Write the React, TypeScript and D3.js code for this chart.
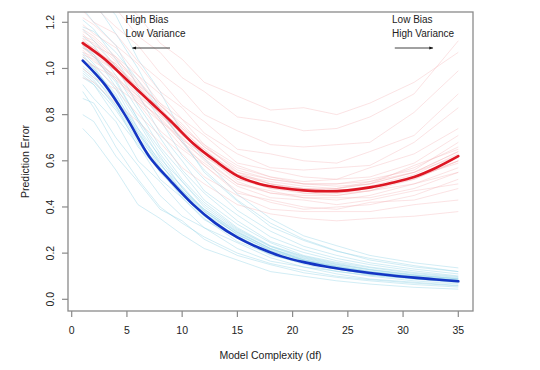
import React from "react";
import * as d3 from "d3";

const curveDf = [1, 2, 4, 6, 8, 10, 12, 15, 18, 21, 24, 27, 31, 35];
// df values for the two average curves
const meanDf = [1, 3, 5, 7, 9, 11, 13, 15, 17, 19, 21, 23, 25, 27, 29, 31, 33, 35];

const trainMean = [1.034, 0.93, 0.785, 0.62, 0.51, 0.41, 0.33, 0.268, 0.222, 0.186, 0.161, 0.142, 0.127, 0.114, 0.103, 0.094, 0.086, 0.078];
const testMean = [1.11, 1.04, 0.95, 0.86, 0.77, 0.675, 0.6, 0.535, 0.5, 0.482, 0.472, 0.468, 0.472, 0.485, 0.505, 0.53, 0.57, 0.62];

// training error, one row per sample
const trainCurves = [
  [0.74, 0.69, 0.56, 0.41, 0.35, 0.28, 0.22, 0.17, 0.12, 0.1, 0.08, 0.066, 0.052, 0.044],
  [0.8, 0.77, 0.62, 0.51, 0.39, 0.34, 0.26, 0.19, 0.15, 0.115, 0.095, 0.08, 0.064, 0.053],
  [0.87, 0.85, 0.7, 0.58, 0.45, 0.36, 0.31, 0.22, 0.165, 0.14, 0.11, 0.088, 0.074, 0.06],
  [0.93, 0.87, 0.77, 0.6, 0.51, 0.4, 0.31, 0.245, 0.18, 0.14, 0.122, 0.1, 0.08, 0.066],
  [0.96, 0.93, 0.79, 0.67, 0.52, 0.44, 0.35, 0.25, 0.195, 0.152, 0.12, 0.104, 0.088, 0.071],
  [0.98, 0.94, 0.84, 0.66, 0.56, 0.44, 0.345, 0.265, 0.19, 0.158, 0.133, 0.106, 0.089, 0.076],
  [1.01, 0.97, 0.84, 0.7, 0.55, 0.47, 0.37, 0.27, 0.205, 0.16, 0.134, 0.114, 0.094, 0.077],
  [1.03, 0.98, 0.87, 0.7, 0.59, 0.46, 0.37, 0.285, 0.21, 0.168, 0.138, 0.113, 0.096, 0.081],
  [1.05, 1.01, 0.87, 0.73, 0.58, 0.49, 0.385, 0.28, 0.215, 0.17, 0.142, 0.12, 0.097, 0.083],
  [1.07, 1.02, 0.91, 0.74, 0.62, 0.48, 0.39, 0.295, 0.22, 0.177, 0.146, 0.121, 0.101, 0.085],
  [1.09, 1.06, 0.92, 0.77, 0.61, 0.51, 0.4, 0.3, 0.228, 0.18, 0.15, 0.127, 0.104, 0.088],
  [1.12, 1.06, 0.95, 0.78, 0.65, 0.52, 0.42, 0.31, 0.232, 0.187, 0.156, 0.13, 0.107, 0.09],
  [1.14, 1.1, 0.97, 0.82, 0.66, 0.55, 0.43, 0.325, 0.245, 0.19, 0.16, 0.137, 0.112, 0.094],
  [1.17, 1.12, 1.01, 0.84, 0.7, 0.56, 0.46, 0.34, 0.25, 0.203, 0.167, 0.14, 0.116, 0.098],
  [1.21, 1.17, 1.04, 0.89, 0.72, 0.6, 0.47, 0.365, 0.27, 0.215, 0.177, 0.15, 0.123, 0.101],
  [1.26, 1.2, 1.1, 0.92, 0.78, 0.62, 0.52, 0.385, 0.295, 0.23, 0.19, 0.158, 0.131, 0.11],
  [1.32, 1.29, 1.15, 1.0, 0.82, 0.69, 0.55, 0.425, 0.315, 0.255, 0.208, 0.177, 0.146, 0.12],
  [1.4, 1.34, 1.23, 1.04, 0.9, 0.72, 0.61, 0.455, 0.35, 0.275, 0.232, 0.19, 0.158, 0.136],
  [0.9, 0.83, 0.66, 0.52, 0.4, 0.33, 0.27, 0.2, 0.155, 0.125, 0.1, 0.085, 0.07, 0.058],
  [1.18, 1.16, 1.07, 0.95, 0.82, 0.68, 0.56, 0.43, 0.33, 0.26, 0.21, 0.17, 0.14, 0.12],
  [1.0, 0.96, 0.86, 0.72, 0.57, 0.47, 0.38, 0.28, 0.21, 0.166, 0.138, 0.116, 0.095, 0.08],
  [1.06, 1.0, 0.89, 0.72, 0.6, 0.485, 0.38, 0.29, 0.218, 0.172, 0.143, 0.117, 0.099, 0.082],
  [1.04, 1.0, 0.88, 0.74, 0.59, 0.47, 0.39, 0.29, 0.22, 0.171, 0.14, 0.119, 0.098, 0.081],
  [0.97, 0.93, 0.82, 0.68, 0.55, 0.45, 0.36, 0.27, 0.2, 0.16, 0.13, 0.11, 0.09, 0.075],
  [1.1, 1.05, 0.94, 0.78, 0.63, 0.51, 0.41, 0.305, 0.23, 0.184, 0.152, 0.128, 0.105, 0.089],
  [0.99, 0.95, 0.83, 0.69, 0.57, 0.45, 0.36, 0.275, 0.2, 0.16, 0.132, 0.108, 0.09, 0.076],
];

// test error, one row per sample
const testCurves = [
  [0.96, 0.94, 0.85, 0.77, 0.68, 0.57, 0.5, 0.41, 0.37, 0.35, 0.34, 0.35, 0.36, 0.38],
  [1.0, 0.96, 0.91, 0.8, 0.71, 0.63, 0.53, 0.45, 0.39, 0.38, 0.38, 0.38, 0.41, 0.43],
  [1.03, 1.01, 0.92, 0.85, 0.73, 0.65, 0.58, 0.46, 0.43, 0.4, 0.39, 0.42, 0.43, 0.48],
  [1.05, 1.01, 0.96, 0.85, 0.77, 0.66, 0.59, 0.49, 0.44, 0.43, 0.41, 0.43, 0.47, 0.5],
  [1.07, 1.05, 0.96, 0.88, 0.77, 0.7, 0.6, 0.5, 0.47, 0.44, 0.44, 0.44, 0.48, 0.55],
  [1.09, 1.05, 0.99, 0.88, 0.81, 0.69, 0.63, 0.51, 0.46, 0.45, 0.45, 0.47, 0.5, 0.55],
  [1.1, 1.08, 0.99, 0.91, 0.8, 0.72, 0.62, 0.53, 0.49, 0.46, 0.45, 0.47, 0.53, 0.59],
  [1.12, 1.07, 1.02, 0.9, 0.83, 0.71, 0.65, 0.52, 0.49, 0.48, 0.47, 0.48, 0.52, 0.6],
  [1.13, 1.11, 1.01, 0.93, 0.82, 0.74, 0.64, 0.55, 0.5, 0.47, 0.48, 0.5, 0.55, 0.64],
  [1.15, 1.1, 1.05, 0.93, 0.85, 0.74, 0.67, 0.55, 0.52, 0.5, 0.49, 0.5, 0.58, 0.65],
  [1.17, 1.14, 1.05, 0.97, 0.85, 0.78, 0.67, 0.58, 0.53, 0.51, 0.52, 0.53, 0.59, 0.71],
  [1.19, 1.15, 1.09, 0.97, 0.89, 0.78, 0.71, 0.59, 0.56, 0.53, 0.52, 0.57, 0.63, 0.74],
  [1.22, 1.19, 1.1, 1.02, 0.9, 0.83, 0.72, 0.63, 0.57, 0.56, 0.57, 0.58, 0.68, 0.83],
  [1.25, 1.2, 1.15, 1.03, 0.95, 0.84, 0.77, 0.65, 0.63, 0.6, 0.59, 0.64, 0.71, 0.89],
  [1.3, 1.27, 1.18, 1.1, 0.98, 0.91, 0.8, 0.73, 0.67, 0.66, 0.67, 0.68, 0.81, 0.99],
  [1.35, 1.3, 1.26, 1.14, 1.07, 0.96, 0.9, 0.79, 0.77, 0.73, 0.74, 0.79, 0.89, 1.12],
  [1.4, 1.38, 1.31, 1.23, 1.11, 1.04, 0.94, 0.88, 0.82, 0.83, 0.8, 0.85, 0.94, 1.07],
  [1.08, 1.03, 0.97, 0.86, 0.79, 0.68, 0.58, 0.47, 0.42, 0.39, 0.4, 0.41, 0.45, 0.52],
  [1.16, 1.13, 1.04, 0.95, 0.84, 0.76, 0.66, 0.57, 0.53, 0.5, 0.5, 0.52, 0.56, 0.68],
  [1.11, 1.09, 1.0, 0.92, 0.81, 0.73, 0.63, 0.54, 0.51, 0.49, 0.48, 0.51, 0.55, 0.62],
  [1.1, 1.06, 0.99, 0.9, 0.81, 0.71, 0.63, 0.53, 0.48, 0.47, 0.46, 0.48, 0.53, 0.6],
  [1.12, 1.09, 1.01, 0.92, 0.82, 0.72, 0.64, 0.54, 0.5, 0.48, 0.47, 0.49, 0.54, 0.63],
  [1.09, 1.07, 0.99, 0.89, 0.8, 0.7, 0.62, 0.52, 0.48, 0.46, 0.46, 0.47, 0.52, 0.6],
  [1.13, 1.08, 1.02, 0.91, 0.83, 0.73, 0.65, 0.54, 0.5, 0.48, 0.48, 0.5, 0.55, 0.64],
  [1.06, 1.04, 0.95, 0.87, 0.78, 0.68, 0.61, 0.5, 0.46, 0.44, 0.43, 0.45, 0.5, 0.57],
  [1.14, 1.12, 1.03, 0.94, 0.84, 0.75, 0.66, 0.56, 0.52, 0.5, 0.5, 0.51, 0.57, 0.66],
];

const xTicks = [0, 5, 10, 15, 20, 25, 30, 35];
const yTicks = [0.0, 0.2, 0.4, 0.6, 0.8, 1.0, 1.2];

const W = 540;
const H = 370;
const box = { left: 68, right: 473, top: 12, bottom: 311 };
const font = "'Liberation Sans', Arial, Helvetica, sans-serif";
const ink = "#222";
const axisGrey = "#8a8a8a";

export default function App() {
  const x = d3.scaleLinear().domain([0, 35]).range([71.7, 458.3]);
  const y = d3.scaleLinear().domain([0, 1.2]).range([299.3, 22.3]);

  const thin = d3
    .line<number>()
    .x((_, i) => x(curveDf[i]))
    .y((d) => y(d));
  const smooth = d3
    .line<number>()
    .x((_, i) => x(meanDf[i]))
    .y((d) => y(d))
    .curve(d3.curveCatmullRom.alpha(0.5));

  return (
    <svg width={W} height={H} style={{ display: "block", position: "absolute", left: 0, top: 0 }}>
      <defs>
        <clipPath id="plotClip">
          <rect x={box.left} y={box.top} width={box.right - box.left} height={box.bottom - box.top} />
        </clipPath>
        <marker id="head" viewBox="0 0 10 10" refX="9" refY="5" markerWidth="7" markerHeight="5" orient="auto">
          <path d="M0,1 L10,5 L0,9 z" fill="#111" />
        </marker>
      </defs>
      <rect width={W} height={H} fill="#fff" />

      <g clipPath="url(#plotClip)" fill="none">
        {trainCurves.map((c, i) => (
          <path key={"tr" + i} d={thin(c) || ""} stroke="#8fd3e6" strokeWidth={0.8} strokeOpacity={0.5} />
        ))}
        {testCurves.map((c, i) => (
          <path key={"te" + i} d={thin(c) || ""} stroke="#f4b0b3" strokeWidth={0.8} strokeOpacity={0.45} />
        ))}
        <path d={smooth(trainMean) || ""} stroke="#1436c4" strokeWidth={2.6} strokeLinecap="round" />
        <path d={smooth(testMean) || ""} stroke="#dd1623" strokeWidth={2.6} strokeLinecap="round" />
      </g>

      {/* box */}
      <rect
        x={box.left}
        y={box.top}
        width={box.right - box.left}
        height={box.bottom - box.top}
        fill="none"
        stroke={axisGrey}
        strokeWidth={1.3}
      />

      {/* x axis */}
      {xTicks.map((t) => (
        <g key={"x" + t}>
          <line x1={x(t)} x2={x(t)} y1={box.bottom} y2={box.bottom + 6} stroke={axisGrey} strokeWidth={1.2} />
          <text x={x(t)} y={334} textAnchor="middle" fontFamily={font} fontSize={10.5} fill={ink}>
            {t}
          </text>
        </g>
      ))}

      {/* y axis */}
      {yTicks.map((t) => (
        <g key={"y" + t}>
          <line x1={box.left - 6} x2={box.left} y1={y(t)} y2={y(t)} stroke={axisGrey} strokeWidth={1.2} />
          <text
            transform={`translate(53.5,${y(t)}) rotate(-90)`}
            textAnchor="middle"
            fontFamily={font}
            fontSize={10.5}
            fill={ink}
          >
            {t.toFixed(1)}
          </text>
        </g>
      ))}

      <text x={(box.left + box.right) / 2} y={359} textAnchor="middle" fontFamily={font} fontSize={10.5} fill={ink}>
        Model Complexity (df)
      </text>
      <text
        transform={`translate(28.5,${(box.top + box.bottom) / 2}) rotate(-90)`}
        textAnchor="middle"
        fontFamily={font}
        fontSize={10.5}
        fill={ink}
      >
        Prediction Error
      </text>

      {/* annotations */}
      <g fontFamily={font} fontSize={10} fill={ink}>
        <text x={x(4.88)} y={22.5}>High Bias</text>
        <text x={x(4.88)} y={37}>Low Variance</text>
        <text x={x(29.0)} y={22.5}>Low Bias</text>
        <text x={x(29.0)} y={37}>High Variance</text>
      </g>
      <line x1={x(8.9)} x2={x(5.5)} y1={48} y2={48} stroke="#111" strokeWidth={0.8} markerEnd="url(#head)" />
      <line x1={x(29.25)} x2={x(32.7)} y1={48} y2={48} stroke="#111" strokeWidth={0.8} markerEnd="url(#head)" />
    </svg>
  );
}
